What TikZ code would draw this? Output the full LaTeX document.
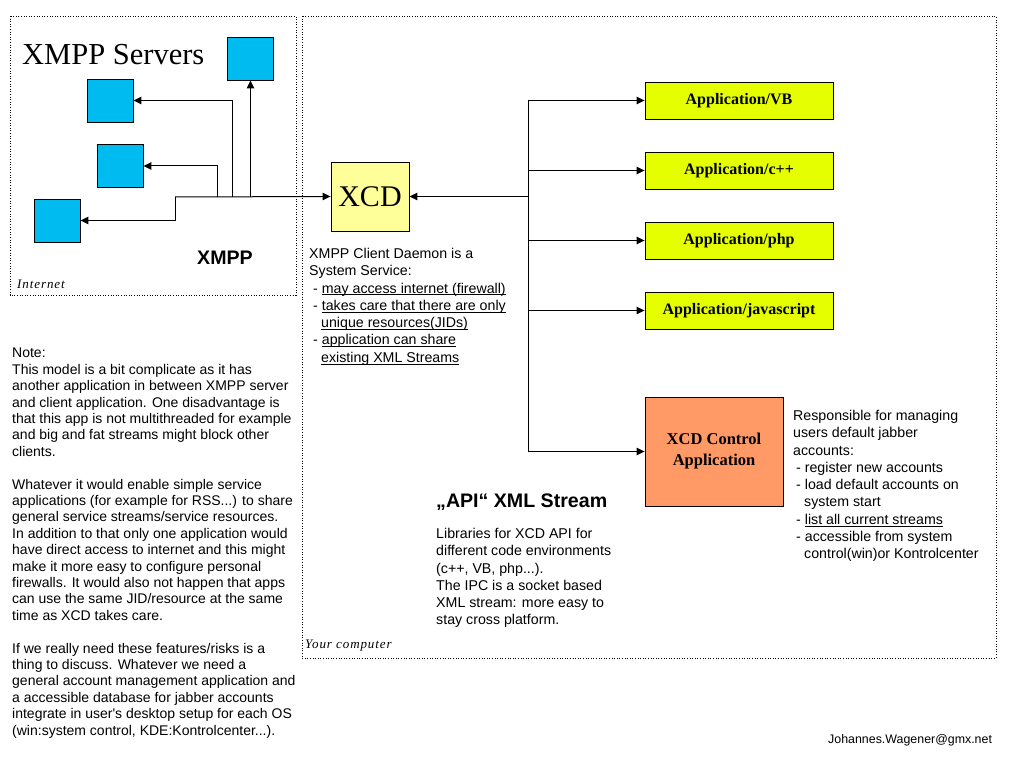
\documentclass[tikz,border=0pt]{standalone}
\usepackage{fontspec}
\setmainfont{Liberation Serif}
\setsansfont{Liberation Sans}
\newfontfamily\arial{Liberation Sans}
\newfontfamily\timesf{Liberation Serif}
\newfontfamily\zonefont[LetterSpace=7]{Liberation Serif}
\usetikzlibrary{arrows.meta}
\definecolor{srvblue}{RGB}{0,187,240}
\definecolor{xcdyellow}{RGB}{255,255,153}
\definecolor{appgreen}{RGB}{230,255,0}
\definecolor{ctlorange}{RGB}{255,153,102}
\newsavebox\ulbox
\newcommand\ulx[1]{\sbox\ulbox{#1}\rlap{\rule[-2.2pt]{\wd\ulbox}{0.8pt}}\usebox\ulbox}
\begin{document}
\begin{tikzpicture}[x=1pt,y=-1pt,
  zone/.style={draw, line width=0.8pt, dash pattern=on 1pt off 1.6pt},
  server/.style={draw, fill=srvblue, line width=0.9pt, minimum width=46pt, minimum height=43pt, inner sep=0},
  app/.style={draw, fill=appgreen, line width=0.9pt, minimum width=188pt, minimum height=37pt, inner sep=0, font=\timesf\bfseries\fontsize{16}{19}\selectfont},
  link/.style={line width=1pt},
  arr/.style={link, -{Triangle[length=8pt,width=7.5pt]}},
  bodytext/.style={anchor=north west, inner sep=0, align=left, font=\arial\fontsize{14.2}{17.3}\selectfont},
  zonelabel/.style={anchor=base west, inner sep=0, font=\zonefont\itshape\fontsize{13}{15}\selectfont}
]
\fill[white] (0,0) rectangle (1011,759);
\useasboundingbox (0,0) rectangle (1011,759);

% zones
\draw[zone] (10,16) rectangle (296,295);
\draw[zone] (302,16) rectangle (996,658);
\node[zonelabel] (lblnet) at (17,288) {Internet};
\node[zonelabel] (lblpc) at (305,648) {Your computer};

% servers
\node[anchor=base west, inner sep=0, font=\timesf\fontsize{30.5}{35}\selectfont] (srvtitle) at (22,65) {XMPP Servers};
\node[server] (s1) at (250.5,58.5) {};
\node[server] (s2) at (110,100.5) {};
\node[server] (s3) at (120,166) {};
\node[server] (s4) at (57,220.5) {};
\node[anchor=base west, inner sep=0, font=\arial\bfseries\fontsize{19.6}{23}\selectfont] (xmpplbl) at (197,265) {XMPP};

% XCD
\node[draw, fill=xcdyellow, line width=0.9pt, minimum width=78pt, minimum height=69pt, inner sep=0, font=\timesf\fontsize{30}{34}\selectfont] (xcd) at (370,196.5) {XCD};

\coordinate (j1) at (175,197);
\coordinate (j2) at (217,197);
\coordinate (j3) at (232,197);
\coordinate (j4) at (250.5,197);
\draw[arr] (j1) -- (xcd.west);
\draw[arr] (j1) |- (s4.east);
\draw[arr] (j2) |- (s3.east);
\draw[arr] (j3) |- (s2.east);
\draw[arr] (j4) -- (s1.south);

% applications
\node[app] (vb) at (739,100.5) {Application/VB};
\node[app] (cpp) at (739,170.5) {Application/c++};
\node[app] (php) at (739,240.5) {Application/php};
\node[app] (js) at (739,310.5) {Application/javascript};
\node[draw, fill=ctlorange, line width=0.9pt, minimum width=138pt, minimum height=109pt, inner sep=0, align=center, font=\timesf\bfseries\fontsize{16.5}{21}\selectfont] (ctl) at (714,451.5) {XCD Control\\Application};

\coordinate (bus) at (528,0);
\draw[link] (bus |- vb.west) -- (bus |- ctl.west);
\draw[arr] (bus |- xcd.east) -- (xcd.east);
\draw[arr] (bus |- vb.west) -- (vb.west);
\draw[arr] (bus |- cpp.west) -- (cpp.west);
\draw[arr] (bus |- php.west) -- (php.west);
\draw[arr] (bus |- js.west) -- (js.west);
\draw[arr] (bus |- ctl.west) -- (ctl.west);

% texts
\node[bodytext] (xcdtext) at (309,248) {XMPP Client Daemon is a\\
System Service:\\
\hspace*{4pt}- \ulx{may access internet (firewall)}\\
\hspace*{4pt}- \ulx{takes care that there are only}\\
\hspace*{12pt}\ulx{unique resources(JIDs)}\\
\hspace*{4pt}- \ulx{application can share}\\
\hspace*{12pt}\ulx{existing XML Streams}};

\node[anchor=north west, inner sep=0, font=\arial\bfseries\fontsize{19.6}{23}\selectfont] (apihead) at (436,494) {„API“ XML Stream};
\node[bodytext] (libtext) at (436,528) {Libraries for XCD API for\\
different code environments\\
(c++, VB, php...).\\
The IPC is a socket based\\
XML stream: more easy to\\
stay cross platform.};

\node[bodytext] (resptext) at (793,410) {Responsible for managing\\
users default jabber\\
accounts:\\
\hspace*{3pt}- register new accounts\\
\hspace*{3pt}- load default accounts on\\
\hspace*{11pt}system start\\
\hspace*{3pt}- \ulx{list all current streams}\\
\hspace*{3pt}- accessible from system\\
\hspace*{11pt}control(win)or Kontrolcenter};

\node[bodytext, font=\arial\fontsize{14}{16.4}\selectfont] (note) at (12,348) {Note:\\
This model is a bit complicate as it has\\
another application in between XMPP server\\
and client application. One disadvantage is\\
that this app is not multithreaded for example\\
and big and fat streams might block other\\
clients.\\[16.4pt]
Whatever it would enable simple service\\
applications (for example for RSS...) to share\\
general service streams/service resources.\\
In addition to that only one application would\\
have direct access to internet and this might\\
make it more easy to configure personal\\
firewalls. It would also not happen that apps\\
can use the same JID/resource at the same\\
time as XCD takes care.\\[16.4pt]
If we really need these features/risks is a\\
thing to discuss. Whatever we need a\\
general account management application and\\
a accessible database for jabber accounts\\
integrate in user's desktop setup for each OS\\
(win:system control, KDE:Kontrolcenter...).};

\node[anchor=base west, inner sep=0, font=\arial\fontsize{12.4}{15}\selectfont] (email) at (828,743) {Johannes.Wagener@gmx.net};
\end{tikzpicture}
\end{document}
